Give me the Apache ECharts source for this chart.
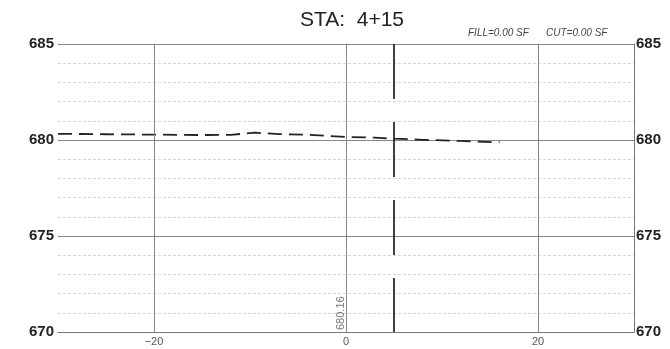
<!DOCTYPE html>
<html>
<head>
<meta charset="utf-8">
<script src="https://cdn.jsdelivr.net/npm/echarts@6/dist/echarts.min.js"></script>
<style>html,body{margin:0;padding:0;background:#fff}#c{width:670px;height:349px}</style>
</head>
<body>
<div id="c"></div>
<script>
const titleText = 'STA:  4+15';
const fillText = 'FILL=0.00 SF';
const cutText = 'CUT=0.00 SF';
const xTickLabels = [-20, 0, 20];
const yTickLabels = [670, 675, 680, 685];
const groundX = [-30, -25, -20, -15, -12, -9.5, -7, -4, 0, 3, 5, 8, 12, 16];
const groundY = [680.32, 680.30, 680.28, 680.26, 680.27, 680.38, 680.31, 680.27, 680.16, 680.12, 680.07, 680.01, 679.95, 679.88];
const stationX = 5;
const elevLabelX = 0;
const elevLabelText = '680.16';

const chart = echarts.init(document.getElementById('c'));
const FONT = 'Liberation Sans, Arial, sans-serif';
const groundData = groundX.map((x, i) => [x, groundY[i]]);

chart.setOption({
  animation: false,
  title: {
    text: titleText, left: 347, top: 5, textAlign: 'center',
    textStyle: { fontFamily: FONT, fontSize: 21, fontWeight: 'normal', color: '#222' }
  },
  graphic: [
    { type: 'text', left: 468, top: 28, style: { text: fillText, font: 'italic 10px ' + FONT, fill: '#444' } },
    { type: 'text', left: 546, top: 28, style: { text: cutText, font: 'italic 10px ' + FONT, fill: '#444' } }
  ],
  grid: { left: 58, right: 36, top: 44, bottom: 17, containLabel: false },
  xAxis: {
    type: 'value', min: -30, max: 30, interval: 10,
    axisLine: { show: true, onZero: false, lineStyle: { color: '#777', width: 1 } },
    axisTick: { show: false },
    splitLine: { show: false },
    axisLabel: {
      margin: 4, fontFamily: FONT, fontSize: 11, color: '#555',
      formatter: v => xTickLabels.includes(v) ? String(v).replace('-', '\u2212') : ''
    }
  },
  yAxis: [
    {
      type: 'value', min: 670, max: 685, interval: 5,
      axisLine: { show: true, lineStyle: { color: '#777' } },
      axisTick: { show: false },
      axisLabel: {
        margin: 4, fontFamily: FONT, fontSize: 15, fontWeight: 'bold', color: '#222',
        formatter: v => yTickLabels.includes(v) ? String(v) : ''
      },
      splitLine: { show: true, lineStyle: { color: '#888', width: 1 } },
      minorTick: { show: false, splitNumber: 5 },
      minorSplitLine: { show: true, lineStyle: { color: '#d6d6d6', width: 1, type: [3, 2] } }
    },
    {
      type: 'value', min: 670, max: 685, interval: 5, position: 'right',
      axisLine: { show: true, lineStyle: { color: '#777' } },
      axisTick: { show: false },
      axisLabel: {
        margin: 2, fontFamily: FONT, fontSize: 15, fontWeight: 'bold', color: '#222',
        formatter: v => yTickLabels.includes(v) ? String(v) : ''
      },
      splitLine: { show: false }
    }
  ],
  series: [
    {
      type: 'line', data: [], silent: true,
      markLine: {
        symbol: 'none', silent: true, label: { show: false },
        lineStyle: { color: '#888', width: 1, type: 'solid' },
        data: xTickLabels.map(v => ({ xAxis: v }))
      }
    },
    {
      type: 'line', data: [[stationX, 685], [stationX, 670]], showSymbol: false, silent: true,
      lineStyle: { color: '#111', width: 1.6, type: [55, 23] }
    },
    {
      type: 'line', data: groundData, showSymbol: false, silent: true,
      lineStyle: { color: '#222', width: 1.8, type: [14, 7] }
    },
    {
      type: 'scatter', data: [[elevLabelX, 670]], symbolSize: 0, silent: true,
      label: {
        show: true, formatter: elevLabelText, position: 'top', distance: 2,
        rotate: 90, align: 'left', verticalAlign: 'bottom',
        fontFamily: FONT, fontSize: 11, color: '#555'
      }
    }
  ]
});
</script>
</body>
</html>
